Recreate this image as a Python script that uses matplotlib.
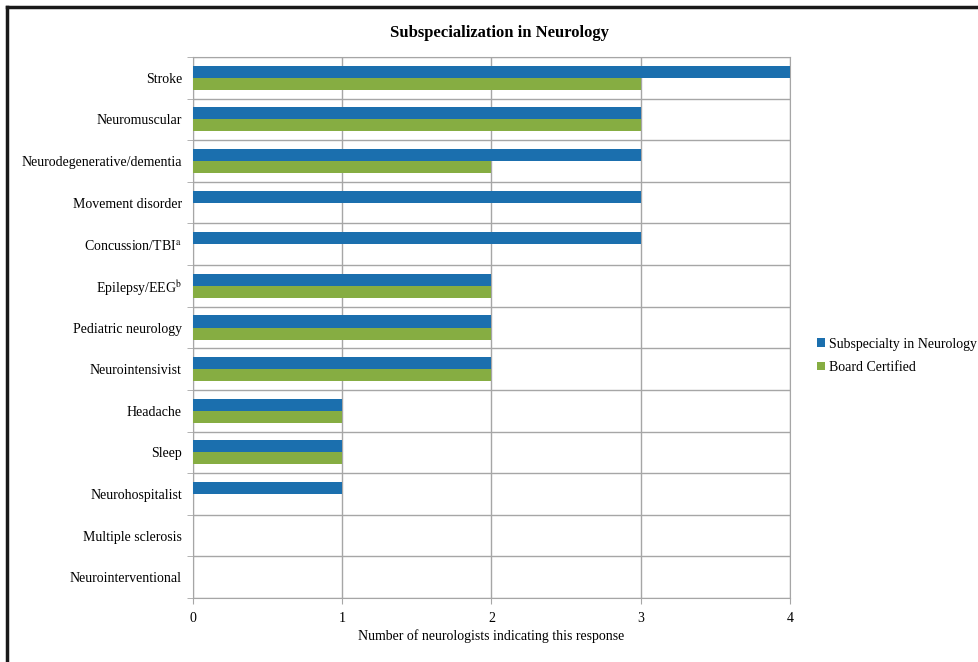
import matplotlib
matplotlib.use("Agg")
import matplotlib.pyplot as plt
import numpy as np

# categories top to bottom
categories = ['Stroke', 'Neuromuscular', 'Neurodegenerative/dementia', 'Movement disorder',
              'Concussion/TBI$^{\\mathrm{a}}$', 'Epilepsy/EEG$^{\\mathrm{b}}$', 'Pediatric neurology',
              'Neurointensivist', 'Headache', 'Sleep', 'Neurohospitalist',
              'Multiple sclerosis', 'Neurointerventional']
subspecialty = [4, 3, 3, 3, 3, 2, 2, 2, 1, 1, 1, 0, 0]
board_certified = [3, 3, 2, 0, 0, 2, 2, 2, 1, 1, 0, 0, 0]
x_ticks = [0, 1, 2, 3, 4]

plt.rcParams['font.family'] = ['Liberation Serif', 'DejaVu Serif']
plt.rcParams['mathtext.fontset'] = 'stix'

blue = '#1b6fae'
green = '#86ad42'
grid_col = '#a6a6a6'

fig = plt.figure(figsize=(9.79, 6.62), dpi=100)
ax = fig.add_axes([193 / 979, 1 - 598 / 662, 597 / 979, 541 / 662])

y = np.arange(len(categories))
h = 0.29
ax.barh(y - h / 2, subspecialty, h, color=blue, label='Subspecialty in Neurology', zorder=3)
ax.barh(y + h / 2, board_certified, h, color=green, label='Board Certified', zorder=3)

ax.set_ylim(len(categories) - 0.5, -0.5)
ax.set_xlim(0, 4)
ax.set_yticks(y)
ax.set_yticklabels(categories, fontsize=10)
ax.set_yticks(np.arange(len(categories) + 1) - 0.5, minor=True)
ax.tick_params(axis='y', which='major', length=0, pad=8)
ax.tick_params(axis='y', which='minor', length=4, color=grid_col)
ax.set_xticks(x_ticks)
ax.tick_params(axis='x', length=4, color=grid_col, labelsize=10, pad=6)
ax.grid(True, axis='x', color=grid_col, linewidth=1, zorder=0)
ax.grid(True, axis='y', which='minor', color=grid_col, linewidth=1, zorder=0)
for s in ax.spines.values():
    s.set_color(grid_col)

ax.set_xlabel('Number of neurologists indicating this response', fontsize=10, labelpad=3)
fig.text(500 / 979, 1 - 33 / 662, 'Subspecialization in Neurology', ha='center', va='center',
         fontsize=12, fontweight='bold')

ax.legend(loc='upper left', bbox_to_anchor=(811 / 979, 1 - 332 / 662),
          bbox_transform=fig.transFigure, frameon=False, fontsize=10,
          handlelength=0.6, handleheight=0.6, handletextpad=0.3, labelspacing=0.75,
          borderaxespad=0)

# page frame (top and left edges)
fig.add_artist(plt.Line2D([7 / 979, 1], [1 - 7 / 662, 1 - 7 / 662], color='#1a1a1a', linewidth=2.5))
fig.add_artist(plt.Line2D([7 / 979, 7 / 979], [0, 1 - 7 / 662], color='#1a1a1a', linewidth=2.5))

fig.savefig('out.png', dpi=100)
